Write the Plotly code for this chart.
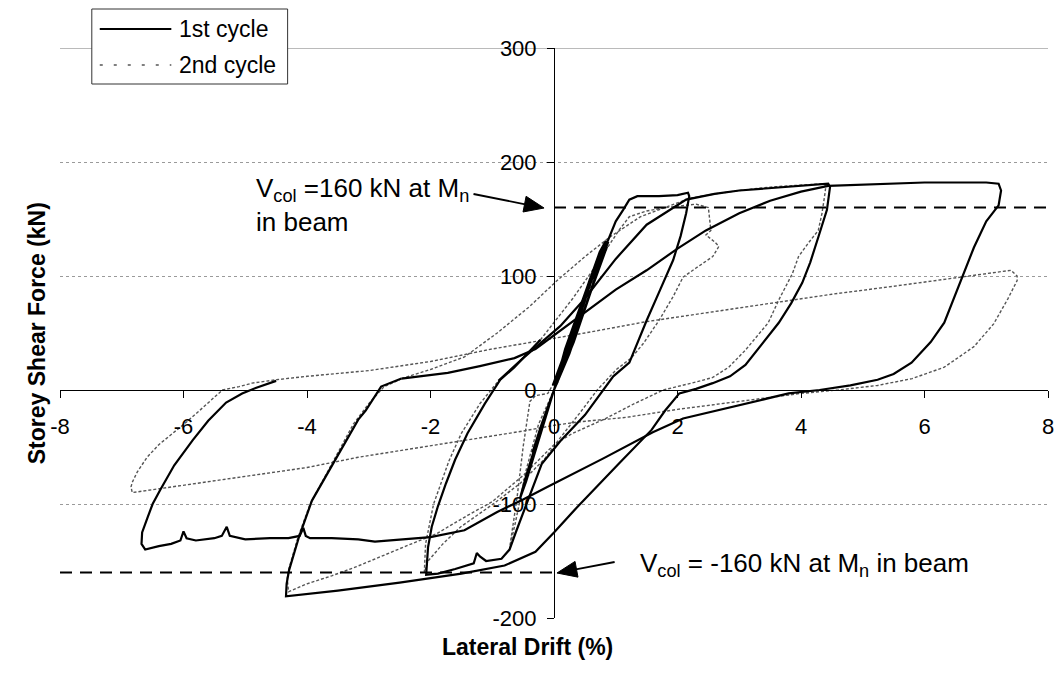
import math
import plotly.graph_objects as go

# ---------------- data (drift %, storey shear kN) ----------------
# 1st cycle, small cycles (<=1%) and 2% excursion
cyc1_small_2pct = [(0, 0), (0.25, 38), (0.45, 68), (0.35, 55), (0.15, 22), (0, 0), (-0.2, -30), (-0.35, -55),
                   (-0.25, -42), (-0.1, -15), (0, 0), (0.3, 45), (0.6, 95), (0.88, 130), (0.8, 120), (0.55, 80),
                   (0.25, 32), (0.0, 0), (0.32, 42), (0.62, 90), (0.86, 126), (0.78, 122), (0.5, 80), (0.2, 35),
                   (-0.02, 4), (0.28, 48), (0.58, 97), (0.84, 131), (0.74, 121), (0.48, 82), (0.18, 36),
                   (0.0, 0), (-0.25, -40), (-0.45, -75), (-0.55, -95), (-0.45, -80), (-0.2, -35),
                   (0.0, 0), (0.3, 45), (0.6, 95), (0.85, 128), (1.0, 148), (1.12, 158), (1.22, 167), (1.35, 170),
                   (1.7, 170), (2.0, 171), (2.17, 173), (2.19, 170), (2.14, 155), (2.05, 135), (1.93, 114),
                   (1.72, 88), (1.5, 61), (1.22, 24), (0.96, 12), (0.5, -22), (0.1, -45), (-0.2, -65),
                   (-0.45, -100), (-0.62, -125), (-0.72, -140), (-0.85, -148), (-1.1, -150), (-1.2, -146),
                   (-1.25, -143), (-1.3, -152), (-1.6, -157), (-1.88, -161), (-2.07, -162), (-2.06, -150),
                   (-2.04, -138), (-1.98, -120), (-1.88, -102), (-1.75, -82), (-1.6, -61), (-1.4, -38),
                   (-1.12, -12), (-0.87, 9), (-0.64, 20), (-0.22, 44)]
# 1st cycle, 4% excursion
cyc1_4pct = [(-0.9, 8), (-0.5, 28), (0.1, 56), (0.48, 79), (1.0, 115), (1.5, 145), (2.14, 167), (2.6, 172),
             (3.0, 175), (3.5, 177), (4.0, 179), (4.44, 181), (4.47, 178), (4.42, 158), (4.28, 134), (4.15, 112),
             (4.02, 94), (3.84, 76), (3.64, 59), (3.38, 41), (3.1, 22), (2.85, 12), (2.57, 6), (2.3, 1),
             (2.03, -3), (1.8, -18), (1.58, -35), (1.06, -64), (0.37, -103), (0.0, -125), (-0.3, -142),
             (-0.8, -154), (-1.5, -161), (-2.5, -169), (-3.5, -176), (-4.34, -181), (-4.33, -170),
             (-4.29, -158), (-4.13, -129), (-3.92, -97), (-3.54, -61), (-3.17, -26), (-3.05, -18), (-2.8, 3),
             (-2.47, 10)]
# 1st cycle, 7% excursion
cyc1_7pct = [(-2.47, 10), (-2.0, 13), (-1.72, 15), (-1.2, 21), (-0.64, 28), (-0.3, 36), (-0.1, 44), (0.5, 68),
             (1.0, 88), (1.5, 105), (2.0, 124), (2.46, 140), (3.0, 155), (3.5, 166), (4.0, 174), (4.44, 179),
             (5.0, 180), (5.5, 181), (6.0, 182), (6.5, 182), (7.0, 182), (7.2, 181), (7.24, 175), (7.2, 162),
             (7.0, 148), (6.8, 125), (6.64, 103), (6.5, 82), (6.32, 59), (6.1, 42), (5.79, 24), (5.5, 14),
             (5.24, 9), (4.8, 4), (4.3, 0), (3.8, -3), (3.0, -13), (2.09, -25), (1.6, -37), (0.8, -60),
             (-0.11, -85), (-0.5, -96), (-0.92, -107), (-1.45, -123), (-2.0, -129), (-2.5, -131), (-2.9, -133),
             (-3.17, -131), (-3.6, -130), (-3.95, -130), (-4.02, -128), (-4.06, -121), (-4.12, -128),
             (-4.3, -130), (-4.6, -130), (-5.0, -131), (-5.25, -128), (-5.3, -120), (-5.38, -128),
             (-5.5, -130), (-5.8, -132), (-5.95, -130), (-6.0, -124), (-6.05, -132), (-6.2, -135),
             (-6.4, -137), (-6.62, -140), (-6.68, -135), (-6.67, -125), (-6.59, -113), (-6.5, -100),
             (-6.38, -88), (-6.15, -66), (-5.85, -44), (-5.6, -27), (-5.31, -11), (-5.05, -3), (-4.82, 2),
             (-4.5, 8)]

# 2nd cycle, small cycles
cyc2_small = [(0.05, 5), (0.3, 48), (0.6, 95), (0.82, 125), (0.72, 110), (0.45, 68), (0.15, 20), (-0.1, -3),
              (-0.3, -5), (-0.39, -10), (-0.5, -50), (-0.6, -95), (-0.72, -139), (-0.62, -115), (-0.45, -70),
              (-0.25, -30), (0, 0)]
# 2nd cycle, 2% excursion
cyc2_2pct = [(-0.22, 44), (-0.06, 55), (0.3, 80), (0.6, 103), (0.85, 123), (1.05, 140), (1.22, 152), (1.5, 157),
             (1.8, 160), (2.1, 162), (2.3, 163), (2.5, 160), (2.52, 150), (2.54, 140), (2.46, 136), (2.6, 130),
             (2.67, 126), (2.57, 117), (2.3, 107), (2.09, 99), (1.93, 82), (1.7, 61), (1.45, 41), (1.25, 28),
             (1.01, 18), (0.7, 0), (0.42, -20), (0.1, -42), (-0.16, -61), (-0.55, -82), (-0.96, -99),
             (-1.51, -120), (-1.8, -135), (-2.04, -150), (-2.1, -160), (-2.09, -148), (-2.08, -135),
             (-1.95, -100), (-1.7, -62), (-1.5, -38), (-1.2, -12), (-0.9, 8)]
# 2nd cycle, 4% excursion
cyc2_4pct = [(-2.47, 10), (-2.0, 18), (-1.45, 29), (-0.92, 50), (-0.4, 73), (0.05, 96), (0.5, 117), (0.9, 134),
             (1.4, 152), (2.19, 168), (2.6, 172), (3.0, 175), (3.5, 178), (4.0, 180), (4.38, 181), (4.4, 178),
             (4.39, 173), (4.34, 155), (4.28, 140), (4.12, 129), (3.96, 117), (3.86, 102), (3.64, 79),
             (3.47, 59), (3.26, 45), (3.1, 35), (2.83, 20), (2.57, 11), (2.3, 7), (1.77, 0), (1.3, -12),
             (0.8, -26), (0.3, -38), (0, -48), (-0.5, -75), (-1.0, -98), (-1.4, -110), (-1.9, -126),
             (-2.4, -137), (-2.8, -146), (-3.2, -155), (-3.6, -163), (-4.0, -170), (-4.3, -177),
             (-4.32, -165), (-4.3, -158), (-4.15, -130), (-3.95, -100), (-3.75, -80), (-3.6, -65),
             (-3.4, -45), (-3.25, -30), (-3.0, -12), (-2.75, 3), (-2.5, 9)]
# 2nd cycle, 7% excursion
cyc2_7pct = [(-4.5, 9), (-4.0, 12), (-3.0, 17), (-2.0, 25), (-1.0, 36), (0.0, 45), (0.5, 50), (1.5, 60),
             (2.5, 68), (3.5, 76), (4.5, 84), (5.5, 91), (6.3, 97), (7.0, 102), (7.4, 105), (7.5, 100),
             (7.5, 96), (7.35, 80), (7.12, 58), (6.8, 38), (6.32, 20), (5.8, 10), (5.24, 4), (4.6, 0),
             (4.0, -3), (3.0, -10), (2.0, -17), (1.17, -24), (0.4, -28), (0.0, -31), (-0.5, -36),
             (-1.08, -41), (-2.0, -49), (-3.17, -59), (-4.0, -68), (-5.0, -76), (-6.0, -84), (-6.5, -88),
             (-6.83, -90), (-6.85, -85), (-6.83, -81), (-6.75, -72), (-6.59, -59), (-6.4, -48), (-6.17, -38),
             (-5.95, -28), (-5.74, -18), (-5.55, -9), (-5.37, 0), (-5.1, 3), (-4.89, 6), (-4.5, 9)]

x_ticks = [-8, -6, -4, -2, 0, 2, 4, 6, 8]
y_ticks = [-200, -100, 0, 100, 200, 300]
v_col = 160  # kN, column shear at Mn in beam

FONT = "Liberation Sans, Arial, sans-serif"


def join(segments):
    xs, ys = [], []
    for seg in segments:
        if xs:
            xs.append(None)
            ys.append(None)
        xs += [p[0] for p in seg]
        ys += [p[1] for p in seg]
    return xs, ys


x1, y1 = join([cyc1_small_2pct, cyc1_4pct, cyc1_7pct])
x2, y2 = join([cyc2_small, cyc2_2pct, cyc2_4pct, cyc2_7pct])

fig = go.Figure()
fig.add_trace(go.Scatter(x=x2, y=y2, mode="lines", name="2nd cycle", connectgaps=False,
                         line=dict(color="#555555", width=1.4, dash="3px,2px"), showlegend=False))
fig.add_trace(go.Scatter(x=x1, y=y1, mode="lines", name="1st cycle", connectgaps=False,
                         line=dict(color="black", width=2.2), showlegend=False))

L, R, T, B = 60, 8, 48, 63
W, H = 1062, 681
PW, PH = W - L - R, H - T - B


def px(xp):
    return (xp - L) / PW


def py(yp):
    return (H - B - yp) / PH


def arrow_shapes(tail, tip, head_len=20, half_w=8):
    dx, dy = tip[0] - tail[0], tip[1] - tail[1]
    n = math.hypot(dx, dy)
    ux, uy = dx / n, dy / n
    bx, by = tip[0] - head_len * ux, tip[1] - head_len * uy
    c1 = (bx - half_w * uy, by + half_w * ux)
    c2 = (bx + half_w * uy, by - half_w * ux)
    path = "M {} {} L {} {} L {} {} Z".format(px(tip[0]), py(tip[1]), px(c1[0]), py(c1[1]),
                                              px(c2[0]), py(c2[1]))
    return [
        dict(type="line", xref="paper", yref="paper", x0=px(tail[0]), y0=py(tail[1]),
             x1=px(bx + 2 * ux), y1=py(by + 2 * uy), line=dict(color="black", width=1.8)),
        dict(type="path", xref="paper", yref="paper", path=path, fillcolor="black",
             line=dict(color="black", width=1)),
    ]


shapes = [
    # dashed reference lines at +/- Vcol
    dict(type="line", xref="x", yref="y", x0=0, x1=8, y0=v_col, y1=v_col,
         line=dict(color="black", width=2, dash="12px,8px")),
    dict(type="line", xref="x", yref="y", x0=-8, x1=0, y0=-v_col, y1=-v_col,
         line=dict(color="black", width=2, dash="12px,8px")),
    # darker top gridline
    dict(type="line", xref="x", yref="y", x0=-8, x1=8, y0=300, y1=300, layer="below",
         line=dict(color="#777777", width=1.2)),
    # legend box
    dict(type="rect", xref="paper", yref="paper", x0=px(92), x1=px(289), y0=py(84), y1=py(9),
         line=dict(color="#333333", width=1), fillcolor="white", layer="above"),
    dict(type="line", xref="paper", yref="paper", x0=px(100), x1=px(172), y0=py(29), y1=py(29),
         line=dict(color="black", width=2.2)),
    dict(type="line", xref="paper", yref="paper", x0=px(100), x1=px(172), y0=py(65), y1=py(65),
         line=dict(color="#555555", width=1.4, dash="3px,11px")),
]
shapes += arrow_shapes((476, 194), (547, 208))
shapes += arrow_shapes((618, 562), (560, 573))

annotations = [
    dict(xref="paper", yref="paper", x=px(178), y=py(29), text="1st cycle", showarrow=False,
         xanchor="left", yanchor="middle", font=dict(family=FONT, size=23, color="black")),
    dict(xref="paper", yref="paper", x=px(178), y=py(65), text="2nd cycle", showarrow=False,
         xanchor="left", yanchor="middle", font=dict(family=FONT, size=23, color="black")),
    # texts
    dict(x=-4.855, y=162, xref="x", yref="y", showarrow=False, xanchor="left", yanchor="middle",
         align="left", text="V<sub>col</sub> =160 kN at M<sub>n</sub><br>in beam",
         font=dict(family=FONT, size=26, color="black")),
    dict(x=1.367, y=-153, xref="x", yref="y", showarrow=False, xanchor="left", yanchor="middle",
         align="left", text="V<sub>col</sub> = -160 kN at M<sub>n</sub> in beam",
         font=dict(family=FONT, size=26, color="black")),
    # axis titles
    dict(xref="paper", yref="paper", x=px(530), y=py(662), showarrow=False,
         text="<b>Lateral Drift (%)</b>", font=dict(family=FONT, size=23, color="black")),
    dict(xref="paper", yref="paper", x=px(22), y=py(333), showarrow=False, textangle=-90,
         text="<b>Storey Shear Force (kN)</b>", font=dict(family=FONT, size=23, color="black")),
]

fig.update_layout(
    width=W, height=H,
    margin=dict(l=L, r=R, t=T, b=B, pad=0),
    paper_bgcolor="white", plot_bgcolor="white",
    font=dict(family=FONT, size=22, color="black"),
    showlegend=False,
    shapes=shapes, annotations=annotations,
    xaxis=dict(range=[-8, 8], tickvals=x_ticks, ticktext=[str(v) for v in x_ticks],
               ticks="outside", ticklen=7, tickcolor="black", tickwidth=1,
               showline=True, linecolor="black", linewidth=1, showgrid=False, zeroline=False,
               anchor="free", position=0.4, ticklabelstandoff=10,
               tickfont=dict(family=FONT, size=22, color="black")),
    yaxis=dict(range=[-200, 300], tickvals=y_ticks, ticktext=[str(v) for v in y_ticks],
               ticks="outside", ticklen=7, tickcolor="black", tickwidth=1,
               showline=True, linecolor="black", linewidth=1, showgrid=True,
               gridcolor="#9a9a9a", gridwidth=1, griddash="dot", zeroline=False,
               anchor="free", position=0.5, ticklabelstandoff=6,
               tickfont=dict(family=FONT, size=22, color="black")),
)

fig.write_html("out.html")
